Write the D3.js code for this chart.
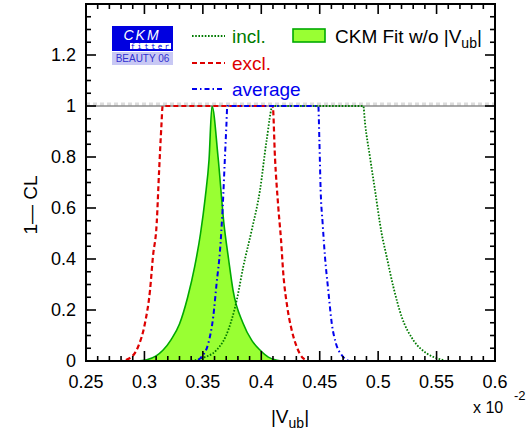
<!DOCTYPE html>
<html><head><meta charset="utf-8">
<script src="https://cdn.jsdelivr.net/npm/d3@7"></script>
<style>body{margin:0;background:#fff}svg{display:block;font-family:"Liberation Sans",Arial,Helvetica,sans-serif}</style>
</head><body>
<script>
// ---- data ----
const xTicks = [0.25,0.3,0.35,0.4,0.45,0.5,0.55,0.6];
const xTickLabels = ["0.25","0.3","0.35","0.4","0.45","0.5","0.55","0.6"];
const yTicks = [0,0.2,0.4,0.6,0.8,1,1.2];
const yTickLabels = ["0","0.2","0.4","0.6","0.8","1","1.2"];

const fitX = [0.293,0.302,0.310,0.316,0.323,0.330,0.337,0.343,0.348,0.352,0.3553,0.3578,0.363,0.368,0.372,0.3758,0.3843,0.392,0.3989,0.406,0.4134,0.42];
const fitY = [0,0.005,0.02,0.043,0.085,0.145,0.25,0.37,0.50,0.64,0.79,1.0,0.80,0.54,0.40,0.278,0.149,0.08,0.043,0.015,0.003,0];

const exclX = [0.25,0.279,0.2877,0.2945,0.3005,0.3048,0.3073,0.3105,0.3125,0.3145,0.3156,0.36,0.4098,0.4117,0.4146,0.4169,0.4188,0.4222,0.426,0.4303,0.436,0.441,0.6];
const exclY = [0,0,0.012,0.055,0.149,0.278,0.41,0.54,0.74,0.92,1,1,1,0.80,0.60,0.475,0.345,0.213,0.122,0.056,0.01,0,0];

const avgX = [0.25,0.344,0.349,0.3547,0.3589,0.3618,0.3647,0.3670,0.3689,0.3702,0.3709,0.41,0.4488,0.4497,0.4508,0.4525,0.4545,0.4573,0.4603,0.4639,0.4688,0.4731,0.476,0.6];
const avgY = [0,0,0.017,0.07,0.174,0.306,0.435,0.605,0.80,0.93,1,1,1,0.867,0.67,0.54,0.409,0.278,0.148,0.069,0.0235,0.004,0,0];

const inclX = [0.25,0.338,0.349,0.3618,0.3718,0.3790,0.3846,0.3918,0.3989,0.4046,0.4098,0.45,0.4873,0.4888,0.493,0.4973,0.5030,0.5073,0.5130,0.5201,0.5301,0.5415,0.5529,0.56,0.6];
const inclY = [0,0,0.011,0.043,0.122,0.239,0.37,0.513,0.67,0.867,1,1,1,0.932,0.80,0.67,0.50,0.409,0.291,0.174,0.082,0.03,0.007,0,0];

// ---- layout ----
const W=528,H=432;
const L=86,R=495,T=4,B=361;
const x=d3.scaleLinear().domain([0.25,0.6]).range([L,R]);
const y=d3.scaleLinear().domain([0,1.4]).range([B,T]);

const svg=d3.select("body").append("svg").attr("width",W).attr("height",H);
svg.append("defs").append("clipPath").attr("id","clip").append("rect")
  .attr("x",L).attr("y",T).attr("width",R-L).attr("height",B-T);

const g=svg.append("g").attr("clip-path","url(#clip)");

// fit area
const area=d3.area().x((d,i)=>x(fitX[i])).y0(y(0)).y1((d,i)=>y(fitY[i])).curve(d3.curveMonotoneX);
g.append("path").datum(fitY).attr("d",area).attr("fill","#99ff33").attr("stroke","#00aa00").attr("stroke-width",1.6);

// y=1 reference lines
g.append("line").attr("x1",L).attr("x2",R).attr("y1",y(1)-2).attr("y2",y(1)-2)
  .attr("stroke","#dcdcdc").attr("stroke-width",3).attr("stroke-dasharray","4,3");
g.append("line").attr("x1",L).attr("x2",R).attr("y1",y(1)).attr("y2",y(1))
  .attr("stroke","#555").attr("stroke-width",1);

function curve(xs,ys,color,dash,w){
  const line=d3.line().x((d,i)=>x(xs[i])).y((d,i)=>y(ys[i])).curve(d3.curveMonotoneX);
  g.append("path").datum(ys).attr("d",line).attr("fill","none").attr("stroke",color)
    .attr("stroke-width",w).attr("stroke-dasharray",dash);
}
curve(inclX,inclY,"#007a00","1.6,1.6",1.8);
curve(exclX,exclY,"#dd0000","5,3",2.2);
curve(avgX,avgY,"#0000ee","5,3,1.5,3",2.0);

// ---- axes ----
const frame=svg.append("g");
frame.append("rect").attr("x",L).attr("y",T).attr("width",R-L).attr("height",B-T)
  .attr("fill","none").attr("stroke","#000").attr("stroke-width",2);

const xMinor=d3.range(0.25,0.6001,0.01);
const yMinor=d3.range(0,1.4001,0.05);
xMinor.forEach(v=>{
  const major=xTicks.some(t=>Math.abs(t-v)<1e-6);
  const len=major?10:5;
  frame.append("line").attr("x1",x(v)).attr("x2",x(v)).attr("y1",B).attr("y2",B-len).attr("stroke","#000").attr("stroke-width",1.6);
  frame.append("line").attr("x1",x(v)).attr("x2",x(v)).attr("y1",T).attr("y2",T+len).attr("stroke","#000").attr("stroke-width",1.6);
});
yMinor.forEach(v=>{
  const major=yTicks.some(t=>Math.abs(t-v)<1e-6);
  const len=major?10:5;
  frame.append("line").attr("y1",y(v)).attr("y2",y(v)).attr("x1",L).attr("x2",L+len).attr("stroke","#000").attr("stroke-width",1.6);
  frame.append("line").attr("y1",y(v)).attr("y2",y(v)).attr("x1",R).attr("x2",R-len).attr("stroke","#000").attr("stroke-width",1.6);
});

frame.selectAll("text.xt").data(xTicks).enter().append("text")
  .attr("x",d=>x(d)).attr("y",388).attr("text-anchor","middle").attr("font-size",18)
  .text((d,i)=>xTickLabels[i]);
frame.selectAll("text.yt").data(yTicks).enter().append("text")
  .attr("x",76).attr("y",d=>y(d)+6).attr("text-anchor","end").attr("font-size",18)
  .text((d,i)=>yTickLabels[i]);

// exponent
frame.append("text").attr("x",473).attr("y",413).attr("font-size",16).text("x 10");
frame.append("text").attr("x",514).attr("y",400).attr("font-size",13).text("-2");

// axis titles
const xt=frame.append("text").attr("x",290).attr("y",423).attr("text-anchor","middle").attr("font-size",19);
xt.append("tspan").text("|V");
xt.append("tspan").attr("font-size",14).attr("dy",5).text("ub");
xt.append("tspan").attr("dy",-5).text("|");
frame.append("text").attr("transform","translate(37,205) rotate(-90)").attr("text-anchor","middle")
  .attr("font-size",19).text("1\u2014 CL");

// ---- legend ----
const lg=svg.append("g");
// logo
lg.append("rect").attr("x",112).attr("y",26).attr("width",61).attr("height",25).attr("fill","#0000e0");
lg.append("rect").attr("x",130).attr("y",43).attr("width",41).attr("height",6).attr("fill","#fff");
lg.append("text").attr("x",142).attr("y",40).attr("text-anchor","middle").attr("font-size",14)
  .attr("font-style","italic").attr("fill","#fff").attr("letter-spacing",2).text("CKM");
lg.append("text").attr("x",151).attr("y",49).attr("text-anchor","middle").attr("font-size",7.5)
  .attr("fill","#0000e0").attr("letter-spacing",2.3).attr("font-family","DejaVu Sans Mono, monospace").text("fitter");
lg.append("rect").attr("x",112).attr("y",52).attr("width",61).attr("height",13).attr("fill","#c8c8f4");
lg.append("text").attr("x",142.5).attr("y",62).attr("text-anchor","middle").attr("font-size",10)
  .attr("fill","#3030d0").text("BEAUTY 06");

const leg=[
  {label:"incl.",color:"#007a00",dash:"1.6,1.6",w:1.8,yy:36},
  {label:"excl.",color:"#dd0000",dash:"5,3",w:2.2,yy:63},
  {label:"average",color:"#0000ee",dash:"5,3,1.5,3",w:2.0,yy:89}
];
leg.forEach(d=>{
  lg.append("line").attr("x1",192).attr("x2",225).attr("y1",d.yy).attr("y2",d.yy)
    .attr("stroke",d.color).attr("stroke-width",d.w).attr("stroke-dasharray",d.dash);
  lg.append("text").attr("x",232).attr("y",d.yy+7).attr("font-size",19).attr("fill",d.color).text(d.label);
});
lg.append("rect").attr("x",293).attr("y",29).attr("width",32).attr("height",13)
  .attr("fill","#99ff33").attr("stroke","#00aa00").attr("stroke-width",1.6);
const lt=lg.append("text").attr("x",335).attr("y",43).attr("font-size",19).attr("fill","#000");
lt.append("tspan").text("CKM Fit w/o |V");
lt.append("tspan").attr("font-size",14).attr("dy",5).text("ub");
lt.append("tspan").attr("dy",-5).text("|");
</script>
</body></html>
